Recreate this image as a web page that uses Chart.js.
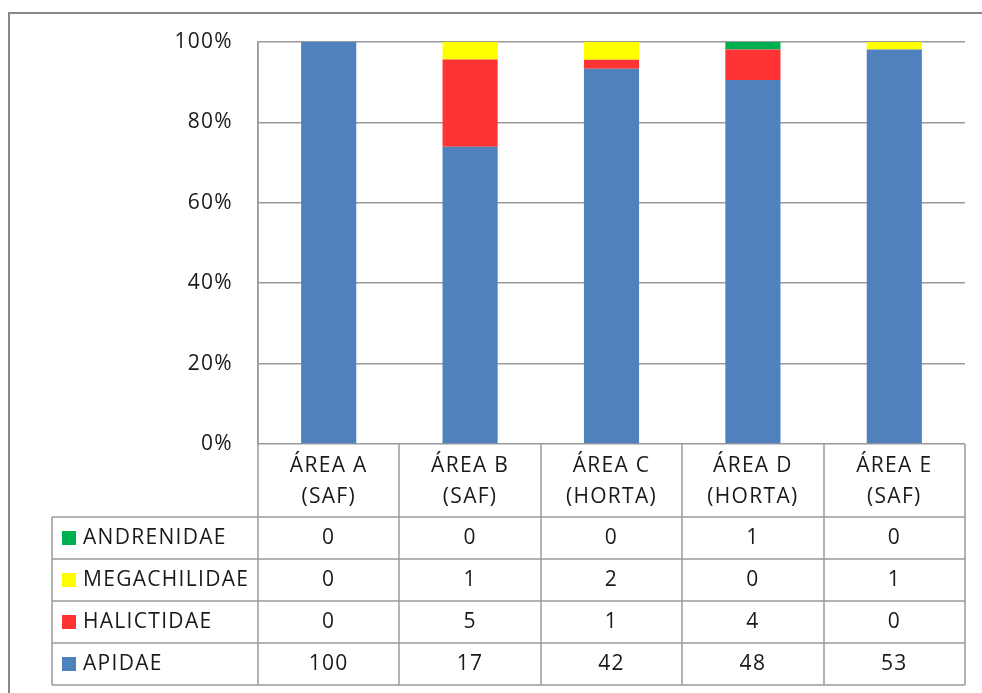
<!DOCTYPE html>
<html>
<head>
<meta charset="utf-8">
<script src="https://cdn.jsdelivr.net/npm/chart.js@4/dist/chart.umd.min.js"></script>
<style>
  html, body { margin: 0; padding: 0; background: #fff; }
  #wrap { position: relative; width: 982px; height: 693px; }
</style>
</head>
<body>
<div id="wrap"><canvas id="beeChart" width="982" height="693"></canvas></div>
<script>
// contagens por família em cada área
const areas = [["ÁREA A", "(SAF)"], ["ÁREA B", "(SAF)"], ["ÁREA C", "(HORTA)"], ["ÁREA D", "(HORTA)"], ["ÁREA E", "(SAF)"]];
const apidae = [100, 17, 42, 48, 53];
const halictidae = [0, 5, 1, 4, 0];
const megachilidae = [0, 1, 2, 0, 1];
const andrenidae = [0, 0, 0, 1, 0];
const yTicks = [0, 20, 40, 60, 80, 100];

const families = [
    { name: "APIDAE", values: apidae, color: "#4F81BD" },
    { name: "HALICTIDAE", values: halictidae, color: "#FF3333" },
    { name: "MEGACHILIDAE", values: megachilidae, color: "#FFFF00" },
    { name: "ANDRENIDAE", values: andrenidae, color: "#00B050" }
];

// total de cada área para converter em %
const totals = areas.map((a, i) => families.reduce((s, f) => s + f.values[i], 0));

const FONT = "500 21px 'Open Sans', sans-serif";
const SPACING = "1.3px";
const TEXT = "#1a1a1a";
const LINE = "#9a9a9a";

// linhas da tabela (de cima para baixo, como no Excel)
const tableRows = [andrenidae, megachilidae, halictidae, apidae].map((v) => families.find((f) => f.values === v));
const headerBottom = 517;
const rowHeight = 42;
const tableLeft = 52;

const tablePlugin = {
    id: "dataTable",
    beforeDraw(chart) {
        const ctx = chart.ctx;
        ctx.save();
        ctx.fillStyle = "#fff";
        ctx.fillRect(0, 0, chart.width, chart.height);
        // moldura externa
        ctx.strokeStyle = "#888";
        ctx.lineWidth = 2;
        ctx.beginPath();
        ctx.moveTo(9, chart.height + 5);
        ctx.lineTo(9, 13);
        ctx.lineTo(chart.width + 5, 13);
        ctx.stroke();
        ctx.restore();
        // espaçamento das letras também nos rótulos do eixo
        ctx.letterSpacing = SPACING;
    },
    afterDraw(chart) {
        const ctx = chart.ctx;
        const x = chart.scales.x;
        const area = chart.chartArea;
        const n = areas.length;
        const w = (area.right - area.left) / n;
        const tableBottom = headerBottom + rowHeight * tableRows.length;

        ctx.save();
        ctx.strokeStyle = LINE;
        ctx.lineWidth = 1.5;
        ctx.beginPath();
        // verticais das categorias
        for (let i = 0; i <= n; i++) {
            const px = Math.round(area.left + i * w);
            ctx.moveTo(px, i === 0 ? area.top : area.bottom);
            ctx.lineTo(px, tableBottom);
        }
        ctx.moveTo(tableLeft, headerBottom);
        ctx.lineTo(tableLeft, tableBottom);
        // horizontais
        for (let r = 0; r <= tableRows.length; r++) {
            const py = headerBottom + r * rowHeight;
            ctx.moveTo(tableLeft, py);
            ctx.lineTo(area.right, py);
        }
        ctx.stroke();

        ctx.font = FONT;
        ctx.letterSpacing = SPACING;
        ctx.fillStyle = TEXT;
        ctx.textAlign = "center";
        ctx.textBaseline = "middle";
        // cabeçalho com o nome das áreas
        areas.forEach((lbl, i) => {
            const cx = x.getPixelForValue(i);
            ctx.fillText(lbl[0], cx, 466);
            ctx.fillText(lbl[1], cx, 497);
        });

        // valores e legenda
        tableRows.forEach((fam, r) => {
            const cy = headerBottom + r * rowHeight + rowHeight / 2;
            ctx.fillStyle = fam.color;
            ctx.fillRect(62, cy - 7, 14, 14);
            ctx.fillStyle = TEXT;
            ctx.textAlign = "left";
            ctx.fillText(fam.name, 83, cy);
            ctx.textAlign = "center";
            fam.values.forEach((v, i) => {
                ctx.fillText(String(v), x.getPixelForValue(i), cy);
            });
        });
        ctx.restore();
    }
};

new Chart(document.getElementById("beeChart"), {
    type: "bar",
    data: {
        labels: areas.map((a) => a.join(" ")),
        datasets: families.map((f) => ({
            label: f.name,
            data: f.values.map((v, i) => (v / totals[i]) * 100),
            backgroundColor: f.color,
            borderWidth: 0,
            barPercentage: 0.39,
            categoryPercentage: 1
        }))
    },
    options: {
        responsive: false,
        animation: false,
        devicePixelRatio: 1,
        layout: { padding: { top: 42, right: 17, bottom: 249, left: 0 } },
        plugins: { legend: { display: false }, tooltip: { enabled: false } },
        scales: {
            x: { stacked: true, display: false },
            y: {
                stacked: true,
                min: 0,
                max: 100,
                afterFit(scale) { scale.width = 258; },
                afterBuildTicks(scale) { scale.ticks = yTicks.map((v) => ({ value: v })); },
                ticks: {
                    padding: 25,
                    color: TEXT,
                    font: { family: "'Open Sans', sans-serif", size: 21, weight: 500 },
                    callback: (v) => v + "%"
                },
                grid: { color: LINE, lineWidth: 1.5, drawTicks: false },
                border: { display: true, color: LINE, width: 1.5 }
            }
        }
    },
    plugins: [tablePlugin]
});
</script>
</body>
</html>
